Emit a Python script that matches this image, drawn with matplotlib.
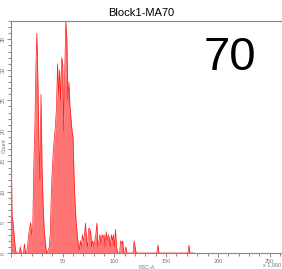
import matplotlib.pyplot as plt
import numpy as np
from matplotlib.ticker import MultipleLocator

plt.rcParams['font.family'] = ['Liberation Sans', 'DejaVu Sans']

title = 'Block1-MA70'
big_label = '70'
x_label = 'FSC-A'
y_label = 'Count'

# counts per channel (x 0..124, units of 1,000)
counts = [21, 6, 5, 3, 1, 0, 0, 0, 0, 1, 0, 0, 0, 1.5, 0, 0, 1, 3, 4, 5,
          3, 4, 14, 20, 30, 36, 28, 18, 12, 26, 14, 8, 4, 2, 0.5, 0, 0.5, 1, 3.4, 10,
          14, 17, 19, 21, 24, 31, 26, 30, 25, 32, 31, 20, 30, 38, 35, 25, 28, 24, 22, 20,
          19, 12, 8, 5, 3, 1.5, 0.5, 2, 1, 3, 2, 3, 4.9, 2, 1, 4, 4, 3.5, 1, 2,
          1, 2, 3, 4.9, 1, 2, 3, 1.5, 3, 2.5, 3, 1, 3.5, 2, 3, 2.5, 1, 3, 2, 3,
          1, 3.9, 1, 0, 0, 0, 2, 1.5, 2, 0, 0, 1, 0, 0, 0, 0, 0, 0, 0, 2,
          1, 0, 0, 0, 0]
counts = counts + [0] * (142 - len(counts)) + [1.3] + [0] * 29 + [1.3] + [0] * 5
channel = np.arange(len(counts))

fig = plt.figure(figsize=(2.82, 2.69), dpi=100)
ax = fig.add_axes([11 / 282, 16 / 269, 271 / 282, 232 / 269])

ax.fill_between(channel, counts, color='#ff7474', lw=0)
ax.plot(channel, counts, color='#ff1a1a', lw=0.5)

ax.set_xlim(0, 262)
ax.set_ylim(0, 38)
ax.xaxis.set_major_locator(MultipleLocator(50))
ax.xaxis.set_minor_locator(MultipleLocator(10))
ax.yaxis.set_major_locator(MultipleLocator(5))
ax.yaxis.set_minor_locator(MultipleLocator(1))
ax.tick_params(which='both', colors='#777777', labelsize=4, width=0.6, pad=1)
ax.tick_params(which='major', length=3)
ax.tick_params(which='minor', length=2)
ax.tick_params(axis='y', labelrotation=90)
for lab in ax.get_yticklabels():
    lab.set_va('center')
ax.xaxis.set_major_formatter(lambda v, p: '' if v == 0 else f'{int(v)}')
ax.yaxis.set_major_formatter(lambda v, p: f'{int(v)}')

for s in ['left', 'bottom', 'top']:
    ax.spines[s].set_color('#888888')
    ax.spines[s].set_linewidth(0.8)
ax.spines['right'].set_visible(False)

ax.set_xlabel(x_label, fontsize=4, color='#777777', labelpad=1)
fig.text(4 / 282, 1 - 146 / 269, y_label, fontsize=4, color='#777777',
         rotation=90, ha='center', va='center')
fig.text(272 / 282, 4 / 269, 'x 1,000', fontsize=4, color='#777777', ha='center', va='center')

fig.text(0.5, 1 - 13 / 269, title, fontsize=8, ha='center', va='center')
fig.text(230 / 282, 1 - 58 / 269, big_label, fontsize=34, ha='center', va='center')

fig.savefig('out.png', dpi=100)
